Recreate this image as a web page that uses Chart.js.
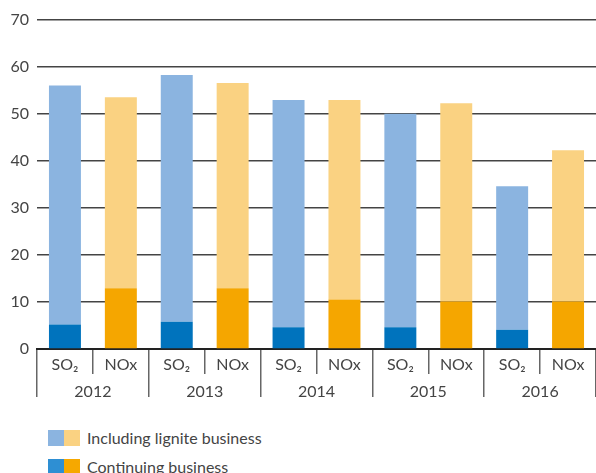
<!DOCTYPE html>
<html>
<head>
<meta charset="utf-8">
<script src="https://cdn.jsdelivr.net/npm/chart.js@4.4.0/dist/chart.umd.min.js"></script>
<style>
  html, body { margin: 0; padding: 0; background: #fff; }
  #wrap { position: relative; width: 596px; height: 473px; overflow: hidden; }
  #chart { position: absolute; left: 0; top: 0; }
  .legend-row { position: absolute; left: 48px; display: flex; align-items: center;
    font-family: Lato, "Noto Sans", sans-serif; font-size: 16px; color: #444; }
  .sq { width: 16px; height: 16px; }
  .legend-row span { margin-left: 7px; }
</style>
</head>
<body>
<div id="wrap">
  <canvas id="chart" width="596" height="410"></canvas>
  <div class="legend-row" style="top:428px;">
    <div class="sq" style="background:#8bb4e0"></div><div class="sq" style="background:#fad282"></div>
    <span>Including lignite business</span>
  </div>
  <div class="legend-row" style="top:457px;">
    <div class="sq" style="background:#2e8fd3"></div><div class="sq" style="background:#f6a800"></div>
    <span>Continuing business</span>
  </div>
</div>
<script>
// 연도 / 물질 구분
const years = ['2012', '2013', '2014', '2015', '2016'];
const pollutants = ['SO₂', 'NOx'];

// 배출량 (총계 = 갈탄 사업 포함, 계속 사업)
const so2Total = [56.0, 58.2, 52.9, 50.0, 34.6];
const so2Continuing = [5.2, 5.8, 4.6, 4.6, 4.1];
const noxTotal = [53.5, 56.5, 52.9, 52.2, 42.2];
const noxContinuing = [12.9, 12.9, 10.5, 10.1, 10.1];

const yTicks = [0, 10, 20, 30, 40, 50, 60, 70];

// 카테고리 펼치기: 연도마다 SO2, NOx
const labels = [];
const contData = [];
const restData = [];
const darkColors = [];
const lightColors = [];
years.forEach((y, i) => {
    labels.push(pollutants[0], pollutants[1]);
    contData.push(so2Continuing[i], noxContinuing[i]);
    restData.push(so2Total[i] - so2Continuing[i], noxTotal[i] - noxContinuing[i]);
    darkColors.push('#0073bd', '#f5a600');
    lightColors.push('#8bb4e0', '#fad282');
});

const font = { family: 'Lato, "Noto Sans", sans-serif', size: 16 };

new Chart(document.getElementById('chart'), {
    type: 'bar',
    data: {
        labels: labels,
        datasets: [
            { label: 'Continuing business', data: contData, backgroundColor: darkColors },
            { label: 'Including lignite business', data: restData, backgroundColor: lightColors }
        ]
    },
    options: {
        responsive: false,
        animation: false,
        layout: { padding: { top: 19.5, bottom: 12, left: 0, right: 0 } },
        datasets: { bar: { barPercentage: 0.572, categoryPercentage: 1 } },
        plugins: { legend: { display: false }, tooltip: { enabled: false } },
        scales: {
            x: {
                stacked: true,
                offset: true,
                grid: { offset: true, drawOnChartArea: false, tickLength: 25, color: '#666', lineWidth: 1.5 },
                border: { display: true, color: '#222', width: 2 },
                ticks: { padding: -19, color: '#444', font: font, maxRotation: 0 },
                afterFit: s => { s.height = 25; }
            },
            x2: {
                type: 'category',
                position: 'bottom',
                labels: years,
                offset: true,
                grid: { offset: true, drawOnChartArea: false, tickLength: 23, color: '#666', lineWidth: 1.5 },
                border: { display: false },
                ticks: { padding: -15, color: '#444', font: font, maxRotation: 0 },
                afterFit: s => { s.height = 24; }
            },
            y: {
                stacked: true,
                min: 0,
                max: 70,
                afterBuildTicks: s => { s.ticks = yTicks.map(v => ({ value: v })); },
                grid: { color: '#444', lineWidth: 1.5, tickLength: 0 },
                border: { display: false },
                ticks: { padding: 8, color: '#444', font: font },
                afterFit: s => { s.width = 37; }
            }
        }
    }
});
</script>
</body>
</html>
